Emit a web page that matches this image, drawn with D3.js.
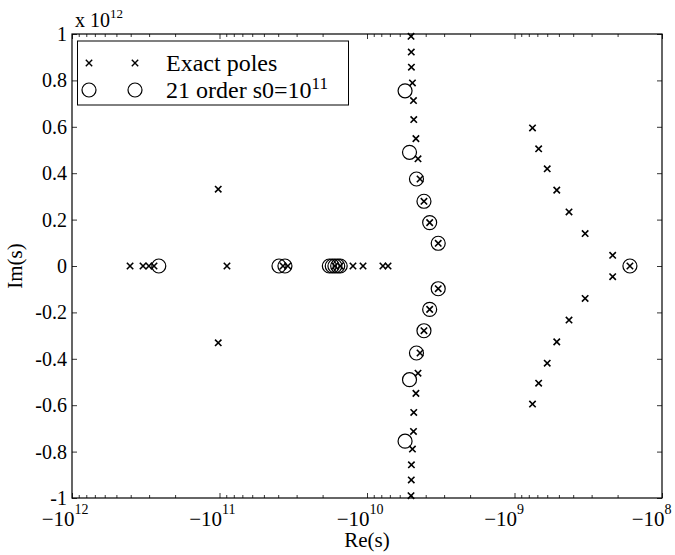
<!DOCTYPE html>
<html>
<head>
<meta charset="utf-8">
<script src="https://cdn.jsdelivr.net/npm/d3@7"></script>
<style>
  body { margin: 0; background: #fff; }
  svg { display: block; }
  text { font-family: "Liberation Serif", "Times New Roman", serif; fill: #000; }
</style>
</head>
<body>
<svg id="chart" width="675" height="555"></svg>
<script>
// Exact poles (x markers): real part, imaginary part in units of 1e12
const exactRe = [
  -4.04e11, -3.30e11, -3.01e11, -2.78e11, -8.9e10,
  -1.02e11, -1.02e11,
  -3.71e10, -3.44e10, -1.65e10, -1.52e10, -1.245e10, -1.064e10, -7.8e9, -7.2e9,
  -5.03e9, -5.01e9, -5.0e9, -4.92e9, -4.84e9, -4.82e9, -4.66e9, -4.51e9, -4.37e9, -4.11e9, -3.76e9, -3.29e9,
  -5.03e9, -5.01e9, -5.0e9, -4.92e9, -4.84e9, -4.82e9, -4.66e9, -4.51e9, -4.37e9, -4.11e9, -3.76e9, -3.29e9,
  -7.55e8, -6.86e8, -6.0e8, -5.17e8, -4.27e8, -3.32e8, -2.16e8,
  -7.55e8, -6.86e8, -6.0e8, -5.17e8, -4.27e8, -3.32e8, -2.16e8,
  -1.65e8
];
const exactIm = [
  0, 0, 0, 0, 0,
  0.331, -0.331,
  0, 0, 0, 0, 0, 0, 0, 0,
  0.99, 0.922, 0.857, 0.789, 0.713, 0.631, 0.549, 0.462, 0.375, 0.279, 0.187, 0.098,
  -0.99, -0.922, -0.857, -0.789, -0.713, -0.631, -0.549, -0.462, -0.375, -0.279, -0.187, -0.098,
  0.595, 0.505, 0.419, 0.327, 0.233, 0.14, 0.046,
  -0.595, -0.505, -0.419, -0.327, -0.233, -0.14, -0.046,
  0
];

// 21st-order approximation poles (circles)
const approxRe = [
  -2.58e11, -3.95e10, -3.6e10,
  -1.80e10, -1.72e10, -1.65e10, -1.58e10, -1.52e10,
  -5.52e9, -5.15e9, -4.62e9, -4.11e9, -3.76e9, -3.29e9,
  -5.52e9, -5.15e9, -4.62e9, -4.11e9, -3.76e9, -3.29e9,
  -1.65e8
];
const approxIm = [
  0, 0, 0,
  0, 0, 0, 0, 0,
  0.755, 0.49, 0.375, 0.279, 0.187, 0.098,
  -0.755, -0.49, -0.375, -0.279, -0.187, -0.098,
  0
];

const xTickValues = [-1e12, -1e11, -1e10, -1e9, -1e8];
const xTickExponents = ["12", "11", "10", "9", "8"];
const yTickValues = [-1, -0.8, -0.6, -0.4, -0.2, 0, 0.2, 0.4, 0.6, 0.8, 1];
const yTickLabels = ["-1", "-0.8", "-0.6", "-0.4", "-0.2", "0", "0.2", "0.4", "0.6", "0.8", "1"];
const legendLabels = ["Exact poles", "21 order s0=10"];
const legendSuperscripts = ["", "11"];

(function draw() {
  const svg = d3.select("#chart");
  const pLeft = 72, pRight = 662, pTop = 34, pBottom = 498;

  const x = d3.scaleLog().domain([-1e12, -1e8]).range([pLeft, pRight]);
  const y = d3.scaleLinear().domain([-1, 1]).range([pBottom, pTop]);

  const majorSet = new Set(xTickValues);
  const xMinor = x.ticks().filter(v => !majorSet.has(v));

  // Bottom axis, ticks pointing inward; "−10" ends at the tick, exponent follows
  const gBottom = svg.append("g").attr("transform", `translate(0,${pBottom})`)
    .call(d3.axisBottom(x).tickValues(xTickValues).tickSizeInner(-5).tickSizeOuter(0)
      .tickPadding(14).tickFormat(() => "\u221210"));
  gBottom.selectAll(".tick text")
    .attr("font-size", 21)
    .attr("text-anchor", "end")
    .attr("x", 2)
    .attr("y", 28)
    .attr("dy", null);
  gBottom.selectAll(".tick").append("text")
    .attr("x", 2).attr("y", 16)
    .attr("font-size", 14)
    .attr("text-anchor", "start")
    .attr("fill", "#000")
    .text((d, i) => xTickExponents[i]);
  svg.append("g").attr("transform", `translate(0,${pBottom})`)
    .call(d3.axisBottom(x).tickValues(xMinor).tickSizeInner(-3).tickSizeOuter(0).tickFormat(""));

  // Top axis (mirror ticks)
  svg.append("g").attr("transform", `translate(0,${pTop})`)
    .call(d3.axisTop(x).tickValues(xTickValues).tickSizeInner(-5).tickSizeOuter(0).tickFormat(""));
  svg.append("g").attr("transform", `translate(0,${pTop})`)
    .call(d3.axisTop(x).tickValues(xMinor).tickSizeInner(-3).tickSizeOuter(0).tickFormat(""));

  // Left axis with labels
  const gLeft = svg.append("g").attr("transform", `translate(${pLeft},0)`)
    .call(d3.axisLeft(y).tickValues(yTickValues).tickSizeInner(-5).tickSizeOuter(0)
      .tickPadding(5).tickFormat((d, i) => yTickLabels[i]));
  gLeft.selectAll(".tick text").attr("font-size", 20);

  // Right axis (mirror ticks)
  svg.append("g").attr("transform", `translate(${pRight},0)`)
    .call(d3.axisRight(y).tickValues(yTickValues).tickSizeInner(-5).tickSizeOuter(0).tickFormat(""));

  svg.selectAll(".domain").remove();
  svg.selectAll(".tick line").attr("stroke", "#000").attr("stroke-width", 0.8);

  // Plot frame
  svg.append("rect")
    .attr("x", pLeft).attr("y", pTop).attr("width", pRight - pLeft).attr("height", pBottom - pTop)
    .attr("fill", "none").attr("stroke", "#000").attr("stroke-width", 1.2);

  // Exponent multiplier above the y axis
  const mult = svg.append("text").attr("x", 75).attr("y", 27).attr("font-size", 20).text("x 10");
  mult.append("tspan").attr("font-size", 13).attr("dy", "-0.7em").text("12");

  // Axis titles
  svg.append("text").attr("x", 367).attr("y", 547)
    .attr("text-anchor", "middle").attr("font-size", 21).text("Re(s)");
  svg.append("text").attr("transform", `translate(22,${(pTop + pBottom) / 2}) rotate(-90)`)
    .attr("text-anchor", "middle").attr("font-size", 21).text("Im(s)");

  // Marker shapes
  const xMark = "M-3.2,-3.2L3.2,3.2M-3.2,3.2L3.2,-3.2";

  const plot = svg.append("g");
  plot.selectAll("path.exact").data(exactRe).join("path")
    .attr("class", "exact")
    .attr("transform", (d, i) => `translate(${x(d)},${y(exactIm[i])})`)
    .attr("d", xMark).attr("fill", "none").attr("stroke", "#000").attr("stroke-width", 1.6);

  plot.selectAll("circle.approx").data(approxRe).join("circle")
    .attr("class", "approx")
    .attr("cx", d => x(d)).attr("cy", (d, i) => y(approxIm[i]))
    .attr("r", 7).attr("fill", "none").attr("stroke", "#000").attr("stroke-width", 1.2);

  // Legend
  const lg = svg.append("g");
  lg.append("rect").attr("x", 77.5).attr("y", 41).attr("width", 271).attr("height", 64)
    .attr("fill", "#fff").attr("stroke", "#000").attr("stroke-width", 1);
  const rows = [63, 90];
  [89, 135].forEach(mx => {
    lg.append("path").attr("transform", `translate(${mx},${rows[0]})`).attr("d", xMark)
      .attr("fill", "none").attr("stroke", "#000").attr("stroke-width", 1.4);
    lg.append("circle").attr("cx", mx).attr("cy", rows[1]).attr("r", 7)
      .attr("fill", "none").attr("stroke", "#000").attr("stroke-width", 1.2);
  });
  legendLabels.forEach((t, i) => {
    const tx = lg.append("text").attr("x", 166).attr("y", rows[i]).attr("dy", "0.35em")
      .attr("font-size", 24).text(t);
    if (legendSuperscripts[i]) {
      tx.append("tspan").attr("font-size", 17).attr("dy", "-0.55em").text(legendSuperscripts[i]);
    }
  });
})();
</script>
</body>
</html>
